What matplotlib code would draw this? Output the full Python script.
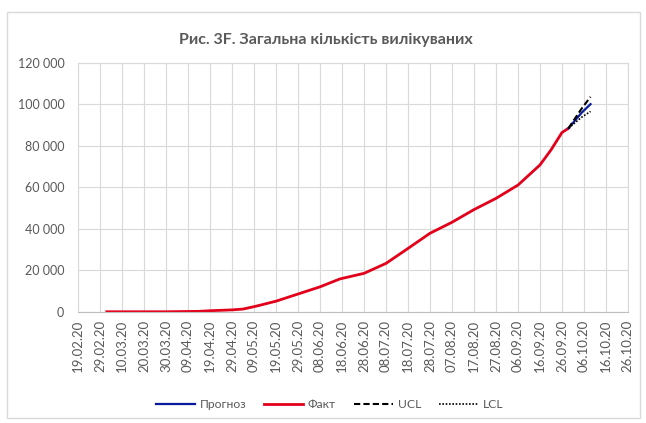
import pandas as pd
import matplotlib
matplotlib.use("Agg")
import matplotlib.pyplot as plt
import matplotlib.dates as mdates
from matplotlib.patches import Rectangle
from matplotlib.ticker import FuncFormatter

plt.rcParams['font.family'] = ['Lato', 'DejaVu Sans']

# fact: total recovered
fact_dates = ['2020-03-03', '2020-03-30', '2020-04-14', '2020-04-19', '2020-04-29',
              '2020-05-04', '2020-05-10', '2020-05-19', '2020-05-30', '2020-06-08',
              '2020-06-17', '2020-06-28', '2020-07-08', '2020-07-18', '2020-07-28',
              '2020-08-07', '2020-08-17', '2020-08-27', '2020-09-06', '2020-09-16',
              '2020-09-21', '2020-09-26', '2020-09-29']
fact_vals = [0, 0, 200, 500, 900,
             1300, 2700, 5100, 8900, 12000,
             15800, 18500, 23300, 30500, 37800,
             43100, 49200, 54600, 61000, 70700,
             77900, 86300, 88400]

# forecast with control limits
fc_dates = ['2020-09-29', '2020-10-02', '2020-10-05', '2020-10-09']
fc_vals = [88400, 92200, 95900, 100000]
ucl_vals = [88400, 93200, 97900, 103500]
lcl_vals = [88400, 91100, 93700, 96500]

tick_start = '2020-02-19'
tick_end = '2020-10-26'

grey = '#595959'
gridc = '#d9d9d9'

fig = plt.figure(figsize=(6.46, 4.23), dpi=100)
ax = fig.add_axes([0.121, 0.263, 0.851, 0.589])

fd = pd.to_datetime(fact_dates)
cd = pd.to_datetime(fc_dates)

ax.plot(cd, fc_vals, color='#0a1a9c', lw=1.6, label='Прогноз', zorder=3)
ax.plot(fd, fact_vals, color='#e3001b', lw=2.0, label='Факт', zorder=2)
ax.plot(cd, ucl_vals, color='black', lw=1.5, ls=(0, (3, 1.5)), label='UCL', zorder=4)
ax.plot(cd, lcl_vals, color='black', lw=1.2, ls=(0, (1, 1)), label='LCL', zorder=4)

ticks = pd.date_range(tick_start, tick_end, freq='10D')
ax.set_xticks(ticks)
ax.xaxis.set_major_formatter(mdates.DateFormatter('%d.%m.%y'))
ax.set_xlim(ticks[0], ticks[-1])
ax.set_ylim(0, 120000)
ax.set_yticks(range(0, 120001, 20000))
ax.yaxis.set_major_formatter(FuncFormatter(lambda v, p: f'{int(v):,}'.replace(',', ' ')))

ax.grid(True, color=gridc, lw=0.8)
ax.set_axisbelow(True)
for s in ax.spines.values():
    s.set_color(gridc)
ax.spines['bottom'].set_color('#bfbfbf')
ax.tick_params(axis='both', length=0, colors=grey)
ax.tick_params(axis='x', rotation=90, pad=6, labelsize=9.5)
ax.tick_params(axis='y', pad=10, labelsize=9)

fig.text(0.505, 0.905, 'Рис. 3F. Загальна кількість вилікуваних', ha='center', va='center',
         fontsize=11.5, fontweight='bold', color=grey)

fig.legend(loc='center', bbox_to_anchor=(0.51, 0.043), ncol=4, frameon=False,
           fontsize=8.7, labelcolor=grey, handlelength=3.2, columnspacing=1.5,
           handletextpad=0.4)

fig.patches.append(Rectangle((0.011, 0.012), 0.98, 0.96, transform=fig.transFigure,
                             fill=False, edgecolor=gridc, lw=1))

fig.savefig('out.png', dpi=100)
